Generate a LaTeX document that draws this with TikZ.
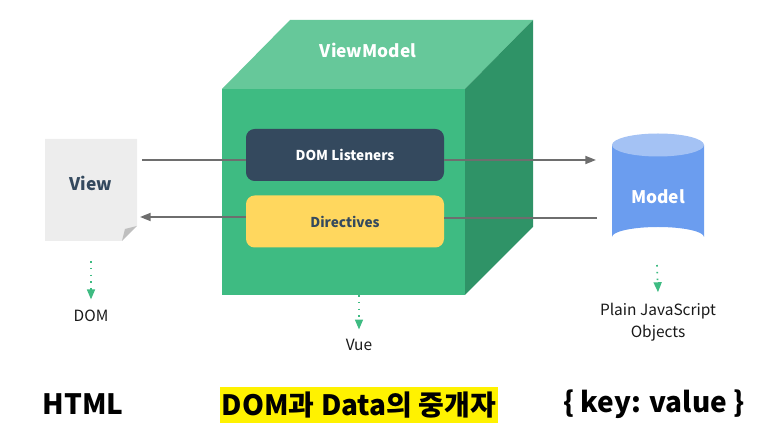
\documentclass[tikz,border=0pt]{standalone}
\usepackage{fontspec}
\setmainfont{Noto Sans CJK KR}
\usepackage{tikz}
\usetikzlibrary{arrows.meta, positioning, calc}
\definecolor{vuegreen}{HTML}{3EBB82}
\definecolor{vuetop}{HTML}{66C89A}
\definecolor{vueside}{HTML}{2F9367}
\definecolor{vuenavy}{HTML}{34495E}
\definecolor{vueyellow}{HTML}{FFD75E}
\definecolor{modelblue}{HTML}{6B9DEF}
\definecolor{modeltop}{HTML}{A4C2F4}
\definecolor{linkgray}{HTML}{6E6E6E}

\begin{document}
\begin{tikzpicture}[
    x=0.75pt, y=-0.75pt,
    box/.style    ={rounded corners=6.5pt, minimum width=148.5pt, minimum height=39pt, inner sep=0pt},
    word/.style   ={font=\fontsize{10.2pt}{12pt}\bfseries},
    big/.style    ={font=\fontsize{13pt}{15pt}\bfseries},
    plain/.style  ={font=\fontsize{11.6pt}{16.5pt}\selectfont, align=center, text=black!90},
    head/.style   ={font=\fontsize{21pt}{24pt}\bfseries, text=black, inner sep=0pt},
    link/.style   ={draw=linkgray, line width=1.3pt, -{Triangle[length=8pt,width=6pt]}},
    bare/.style   ={draw=linkgray, line width=1.3pt},
    dots/.style   ={draw=vuegreen, line width=1.2pt, dash pattern=on 1.2pt off 3.9pt,
                    -{Triangle[length=7.5pt,width=6pt]}}
  ]
  \useasboundingbox (0,0) rectangle (783,441);

  %% ---- cube --------------------------------------------------------
  \fill[vuetop]  (222,89) -- (290,20) -- (533,20) -- (465,89) -- cycle;
  \fill[vueside] (465,89) -- (533,20) -- (533,227) -- (465,295) -- cycle;
  \fill[vuegreen] (222,89) rectangle (465,295);
  \node[big, text=white] (viewmodel) at (368,50) {ViewModel};
  \coordinate (cubebase) at (359,295);

  %% ---- page --------------------------------------------------------
  \fill[black!7] (45,139) -- (137,139) -- (137,226) -- (122,241) -- (45,241) -- cycle;
  \fill[black!25] (137,226) -- (122,241) -- (125,229) -- cycle;
  \node[big, text=vuenavy] (view) at (91,183) {View};
  \coordinate (viewtop) at (142,160);
  \coordinate (viewlow) at (140,217);
  \coordinate (viewbase) at (91,261);

  %% ---- cylinder ----------------------------------------------------
  \fill[modelblue] (612,145) -- (612,237) arc[start angle=180, end angle=360, x radius=46, y radius=10]
    -- (704,145) -- cycle;
  \fill[modeltop] (658,145) ellipse[x radius=46, y radius=11.5];
  \node[big, text=white] (model) at (658,197) {Model};
  \coordinate (modeltopside) at (596,160);
  \coordinate (modellow) at (597,218);
  \coordinate (modelbase) at (657,265);

  %% ---- links -------------------------------------------------------
  \node[box, fill=vuenavy] (listeners) at (345,155) {};
  \node[box, fill=vueyellow] (directives) at (345,221.5) {};
  \draw[bare] (viewtop) -- (viewtop -| listeners.west);
  \draw[link] (modeltopside -| listeners.east) -- (modeltopside);
  \draw[bare] (modellow) -- (modellow -| directives.east);
  \draw[link] (viewlow -| directives.west) -- (viewlow);
  \node[word, text=white] (listenerstext) at (listeners) {DOM Listeners};
  \node[word, text=vuenavy] (directivestext) at (directives) {Directives};

  %% ---- labels below ------------------------------------------------
  \node[plain] (dom) at (91,316) {DOM};
  \node[plain] (vue) at (359,345) {Vue};
  \node[plain] (objects) at (658,322) {Plain JavaScript\\Objects};
  \draw[dots] (viewbase) -- ($(dom.north)+(0,-6)$);
  \draw[dots] (cubebase) -- ($(vue.north)+(0,-5)$);
  \draw[dots] (modelbase) -- ($(objects.north)+(0,-6)$);

  %% ---- bottom row --------------------------------------------------
  \node[head] (html) at (83,404) {HTML};
  \node[head, fill=yellow, minimum width=208.5pt, minimum height=27pt] (bridge) at (359,405) {DOM과 Data의 중개자};
  \node[head] (keyvalue) at (654,404) {\{ key: value \}};

\end{tikzpicture}
\end{document}
